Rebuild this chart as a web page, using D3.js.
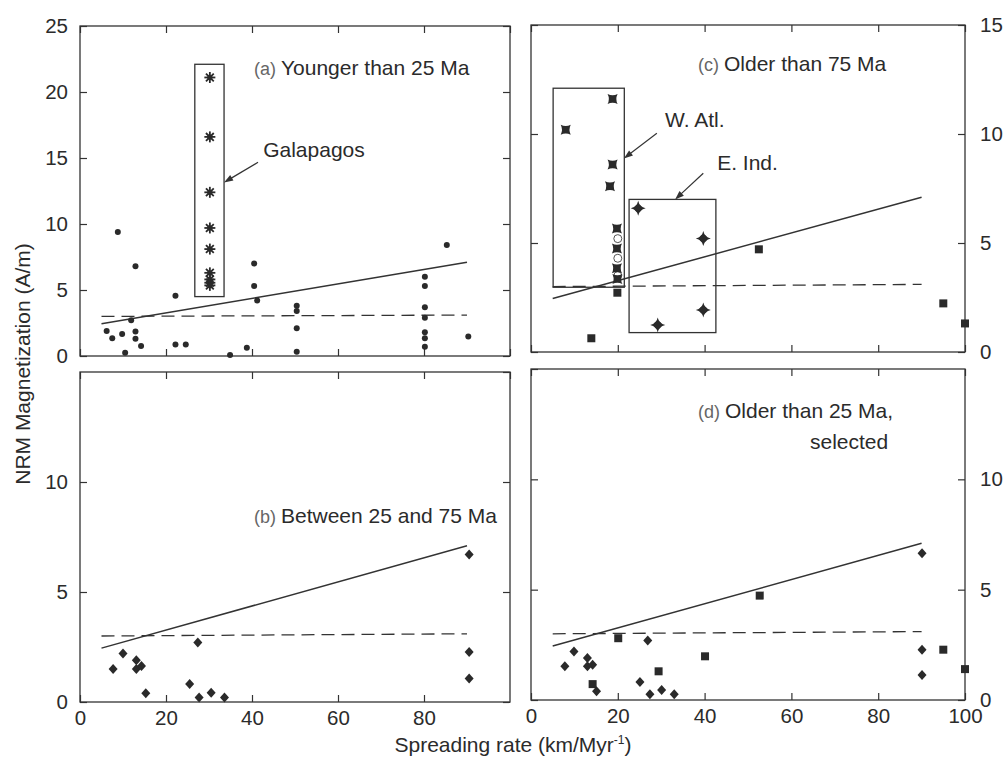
<!DOCTYPE html>
<html>
<head>
<meta charset="utf-8">
<script src="https://d3js.org/d3.v7.min.js"></script>
<style>
    body { margin: 0; background: #fff; }
    svg { display: block; font-family: "Liberation Sans", Arial, sans-serif; }
    .axis text { font-family: "Liberation Sans", Arial, sans-serif; font-size: 20.5px; fill: #2b2b2b; }
    .axis line { stroke: #333; stroke-width: 1.2; }
    .axis path { display: none; }
    .frame { fill: none; stroke: #333; stroke-width: 1.3; }
    .title { font-size: 21px; fill: #2b2b2b; }
    .title .tag { font-size: 18px; fill: #666; }
</style>
</head>
<body>
<svg width="1004" height="758"></svg>
<script>
    // spreading rate (km/Myr) vs NRM magnetization (A/m)
    const youngerDots = [
        [8.8, 9.4], [12.9, 6.8], [6.2, 1.9], [7.5, 1.35], [9.8, 1.67], [10.5, 0.25],
        [11.9, 2.7], [12.9, 1.85], [12.9, 1.3], [14.2, 0.76], [22.2, 4.56], [22.2, 0.88],
        [24.6, 0.88], [34.9, 0.08], [38.8, 0.63], [40.5, 7.0], [40.5, 5.3], [41.2, 4.2],
        [50.4, 3.8], [50.4, 3.4], [50.4, 2.1], [50.4, 0.33], [85.3, 8.4], [80.2, 6.0],
        [80.2, 5.3], [80.2, 3.7], [80.2, 2.9], [80.2, 1.8], [80.2, 1.35], [80.2, 0.7],
        [90.3, 1.47]
    ];
    const galapagos = [
        [30.2, 21.1], [30.2, 16.6], [30.2, 12.4], [30.2, 9.7], [30.2, 8.1],
        [30.2, 6.3], [30.2, 5.8], [30.2, 5.55], [30.2, 5.35]
    ];
    const middleDiamonds = [
        [7.7, 1.5], [10.0, 2.2], [13.1, 1.9], [13.1, 1.5], [14.3, 1.64], [15.3, 0.4],
        [25.5, 0.82], [27.4, 2.7], [27.7, 0.2], [30.5, 0.42], [33.6, 0.2],
        [90.5, 6.7], [90.5, 2.27], [90.5, 1.07]
    ];
    const westAtlantic = [
        [8.0, 10.2], [18.8, 11.6], [18.8, 8.6], [18.2, 7.6],
        [19.8, 5.67], [19.8, 4.75], [19.8, 3.84], [19.9, 3.35]
    ];
    const westAtlanticOpen = [[20.0, 5.2], [20.0, 4.3], [20.0, 3.5]];
    const eastIndian = [[24.7, 6.59], [39.7, 5.21], [39.7, 1.93], [29.2, 1.24]];
    const oldSquares = [[19.9, 2.72], [13.9, 0.63], [52.5, 4.71], [95.0, 2.23], [100.0, 1.31]];
    const selectedDiamonds = [
        [7.8, 1.53], [9.9, 2.2], [13.0, 1.9], [13.0, 1.53], [14.2, 1.6], [15.1, 0.4],
        [25.1, 0.82], [26.9, 2.7], [27.4, 0.26], [30.1, 0.45], [33.0, 0.26],
        [90.1, 6.65], [90.1, 2.28], [90.1, 1.13]
    ];
    const selectedSquares = [
        [20.1, 2.8], [14.2, 0.72], [29.4, 1.3], [40.1, 1.98], [52.7, 4.73],
        [95.0, 2.28], [100.0, 1.4]
    ];

    // fitted lines shared by all panels
    const fitLine = [[5, 2.45], [90, 7.1]];
    const meanLine = [[5, 3.0], [90, 3.1]];

    // annotation boxes, in data units [x0, x1, y0, y1]
    const galapagosBox = [26.7, 33.5, 4.5, 22.1];
    const westAtlanticBox = [5.1, 21.5, 2.97, 12.1];
    const eastIndianBox = [22.6, 42.6, 0.89, 7.0];

    const xTicks = [0, 20, 40, 60, 80, 100];

    const svg = d3.select("svg");
    const ink = "#2a2a2a";

    // frame geometry of the four panels
    const panels = {
        a: { left: 80, right: 510, top: 26, bottom: 356, yMax: 25 },
        b: { left: 80, right: 510, top: 372, bottom: 702, yMax: 15 },
        c: { left: 531, right: 965, top: 25, bottom: 352, yMax: 15 },
        d: { left: 531, right: 965, top: 369, bottom: 700, yMax: 15 }
    };

    function setupPanel(p, opts) {
        const x = d3.scaleLinear().domain([0, 100]).range([p.left, p.right]);
        const y = d3.scaleLinear().domain([0, p.yMax]).range([p.bottom, p.top]);
        const g = svg.append("g");
        const yTicks = d3.range(0, p.yMax + 0.1, 5);

        // bottom axis (ticks pointing in)
        g.append("g").attr("class", "axis")
            .attr("transform", `translate(0,${p.bottom})`)
            .call(d3.axisBottom(x).tickValues(opts.xLabels ? opts.xLabels : xTicks)
                .tickSize(-7).tickPadding(8)
                .tickFormat(opts.xLabels ? d3.format("d") : ""));
        g.append("g").attr("class", "axis")
            .attr("transform", `translate(0,${p.top})`)
            .call(d3.axisTop(x).tickValues(xTicks).tickSize(-7).tickFormat(""));

        g.append("g").attr("class", "axis")
            .attr("transform", `translate(${p.left},0)`)
            .call(d3.axisLeft(y).tickValues(opts.side === "left" ? opts.yLabels : yTicks)
                .tickSize(-7).tickPadding(12)
                .tickFormat(opts.side === "left" ? d3.format("d") : ""));
        g.append("g").attr("class", "axis")
            .attr("transform", `translate(${p.right},0)`)
            .call(d3.axisRight(y).tickValues(opts.side === "right" ? opts.yLabels : yTicks)
                .tickSize(-7).tickPadding(15)
                .tickFormat(opts.side === "right" ? d3.format("d") : ""));

        g.append("rect").attr("class", "frame")
            .attr("x", p.left).attr("y", p.top)
            .attr("width", p.right - p.left).attr("height", p.bottom - p.top);

        // regression (solid) and mean (dashed) lines
        const line = d3.line().x(d => x(d[0])).y(d => y(d[1]));
        g.append("path").attr("d", line(fitLine))
            .attr("fill", "none").attr("stroke", "#333").attr("stroke-width", 1.5);
        g.append("path").attr("d", line(meanLine))
            .attr("fill", "none").attr("stroke", "#333").attr("stroke-width", 1.3)
            .attr("stroke-dasharray", "13,7");

        return { g, x, y };
    }

    function title(g, px, py, tag, lines) {
        const t = g.append("text").attr("class", "title").attr("x", px).attr("y", py);
        t.append("tspan").attr("class", "tag").text(tag + " ");
        t.append("tspan").text(lines);
        return t;
    }

    function box(g, x, y, b) {
        g.append("rect").attr("class", "frame")
            .attr("x", x(b[0])).attr("y", y(b[3]))
            .attr("width", x(b[1]) - x(b[0])).attr("height", y(b[2]) - y(b[3]));
    }

    function arrow(g, x, y, from, to) {
        const x1 = x(from[0]), y1 = y(from[1]), x2 = x(to[0]), y2 = y(to[1]);
        const ang = Math.atan2(y2 - y1, x2 - x1);
        g.append("line").attr("x1", x1).attr("y1", y1)
            .attr("x2", x2 - 6 * Math.cos(ang)).attr("y2", y2 - 6 * Math.sin(ang))
            .attr("stroke", "#333").attr("stroke-width", 1.2);
        const h = 9, w = 3.2;
        const bx = x2 - h * Math.cos(ang), by = y2 - h * Math.sin(ang);
        g.append("path")
            .attr("d", `M${x2},${y2}L${bx - w * Math.sin(ang)},${by + w * Math.cos(ang)}L${bx + w * Math.sin(ang)},${by - w * Math.cos(ang)}Z`)
            .attr("fill", "#333");
    }

    function label(g, px, py, text) {
        g.append("text").attr("class", "title").attr("x", px).attr("y", py).text(text);
    }

    // marker shapes
    const diamondPath = "M0,-5L4.5,0L0,5L-4.5,0Z";
    const squarePath = "M-4,-4H4V4H-4Z";
    const bowtiePath = "M-5,-5Q0,-2.5 5,-5Q2.5,0 5,5Q0,2.5 -5,5Q-2.5,0 -5,-5Z";
    const sparkPath = "M0,-7.5Q1.3,-1.3 7.5,0Q1.3,1.3 0,7.5Q-1.3,1.3 -7.5,0Q-1.3,-1.3 0,-7.5Z";

    function marks(g, x, y, data, path, extra) {
        const sel = g.append("g").selectAll("g").data(data).join("g")
            .attr("transform", d => `translate(${x(d[0])},${y(d[1])})`);
        sel.append("path").attr("d", path).attr("fill", ink);
        if (extra) extra(sel);
        return sel;
    }

    // (a) younger than 25 Ma
    {
        const { g, x, y } = setupPanel(panels.a, { side: "left", yLabels: [0, 5, 10, 15, 20, 25] });
        g.append("g").selectAll("circle").data(youngerDots).join("circle")
            .attr("cx", d => x(d[0])).attr("cy", d => y(d[1])).attr("r", 3)
            .attr("fill", ink);
        box(g, x, y, galapagosBox);
        const star = g.append("g").selectAll("g").data(galapagos).join("g")
            .attr("transform", d => `translate(${x(d[0])},${y(d[1])})`);
        [0, 45, 90, 135].forEach(a => {
            star.append("line").attr("x1", -5.5).attr("x2", 5.5)
                .attr("transform", `rotate(${a})`)
                .attr("stroke", ink).attr("stroke-width", 1.8);
        });
        star.append("circle").attr("r", 2.6).attr("fill", ink);
        title(g, 254, 75, "(a)", "Younger than 25 Ma");
        label(g, x(42.6), y(15.05), "Galapagos");
        arrow(g, x, y, [41.4, 14.67], [33.5, 13.15]);
    }

    // (b) between 25 and 75 Ma
    {
        const { g, x, y } = setupPanel(panels.b, { side: "left", yLabels: [0, 5, 10], xLabels: [0, 20, 40, 60, 80] });
        marks(g, x, y, middleDiamonds, diamondPath);
        title(g, 254, 523, "(b)", "Between 25 and 75 Ma");
    }

    // (c) older than 75 Ma
    {
        const { g, x, y } = setupPanel(panels.c, { side: "right", yLabels: [0, 5, 10, 15] });
        box(g, x, y, westAtlanticBox);
        box(g, x, y, eastIndianBox);
        g.append("g").selectAll("circle").data(westAtlanticOpen).join("circle")
            .attr("cx", d => x(d[0])).attr("cy", d => y(d[1])).attr("r", 4)
            .attr("fill", "#fff").attr("stroke", "#555").attr("stroke-width", 1);
        marks(g, x, y, westAtlantic, bowtiePath);
        marks(g, x, y, eastIndian, sparkPath, s => s.append("circle").attr("r", 3.6).attr("fill", ink));
        marks(g, x, y, oldSquares, squarePath);
        title(g, 698, 71, "(c)", "Older than 75 Ma");
        label(g, x(30.9), y(10.3), "W. Atl.");
        arrow(g, x, y, [29.0, 10.03], [21.4, 8.88]);
        label(g, x(42.9), y(8.35), "E. Ind.");
        arrow(g, x, y, [39.7, 8.2], [33.2, 7.0]);
    }

    // (d) older than 25 Ma, selected
    {
        const { g, x, y } = setupPanel(panels.d, { side: "right", yLabels: [0, 5, 10], xLabels: xTicks });
        marks(g, x, y, selectedDiamonds, diamondPath);
        marks(g, x, y, selectedSquares, squarePath);
        title(g, 698, 418, "(d)", "Older than 25 Ma,");
        label(g, 810, 449, "selected");
    }

    // shared axis titles
    svg.append("text").attr("class", "title")
        .attr("transform", "translate(30,364) rotate(-90)")
        .attr("text-anchor", "middle")
        .text("NRM Magnetization (A/m)");
    const xt = svg.append("text").attr("class", "title")
        .attr("x", 513).attr("y", 752).attr("text-anchor", "middle");
    xt.append("tspan").text("Spreading rate (km/Myr");
    xt.append("tspan").attr("font-size", "12px").attr("dy", -8).text("-1");
    xt.append("tspan").attr("dy", 8).text(")");
</script>
</body>
</html>
